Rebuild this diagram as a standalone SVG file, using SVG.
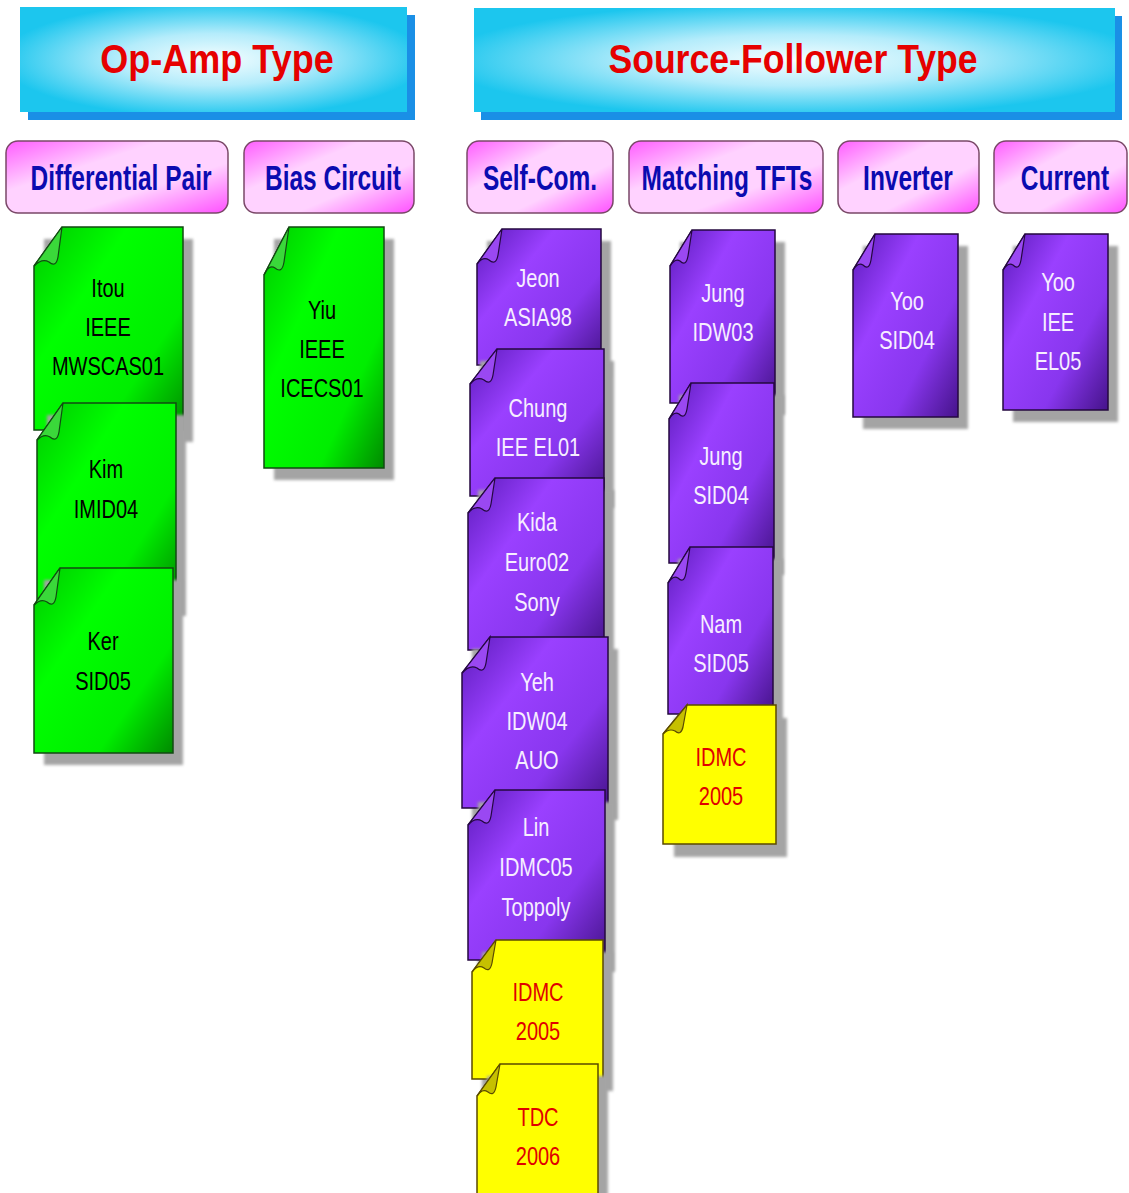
<svg xmlns="http://www.w3.org/2000/svg" width="1129" height="1193" viewBox="0 0 1129 1193">
<style>
.hdrtxt{font-family:"Liberation Sans",Arial,sans-serif;font-weight:bold;font-size:40px;fill:#e60000;text-anchor:middle}
.cattxt{font-family:"Liberation Sans",Arial,sans-serif;font-weight:bold;font-size:35px;fill:#0b0bb0;text-anchor:middle}
.cat{fill:url(#gPink);stroke:#7a4868;stroke-width:1.5}
.hdr{fill:url(#gCyan)}
.hdrsh{fill:#1a8fe6}
.ntxt{font-family:"Liberation Sans",Arial,sans-serif;font-size:25px;text-anchor:middle}
.sh{fill:#a4a4a4;filter:url(#blur)}
.green .body{fill:url(#gGreen);stroke:#124a12;stroke-width:1.5}
.green .flap{fill:#3ad83a;stroke:#124a12;stroke-width:1.2}
.green text{fill:#000}
.purple .body{fill:url(#gPurple);stroke:#24083f;stroke-width:1.5}
.purple .flap{fill:#9a48f2;stroke:#24083f;stroke-width:1.2}
.purple text{fill:#f6eeff}
.yellow .body{fill:#ffff00;stroke:#5a4a00;stroke-width:1.5}
.yellow .flap{fill:#c6c000;stroke:#5a4a00;stroke-width:1.2}
.yellow text{fill:#e00000}
</style>
<defs>
<filter id="blur" x="-10%" y="-10%" width="120%" height="120%"><feGaussianBlur stdDeviation="1.6"/></filter>
<radialGradient id="gCyan" cx="0.5" cy="0.5" r="0.55">
<stop offset="0" stop-color="#f6feff"/><stop offset="0.45" stop-color="#b4ecfb"/><stop offset="1" stop-color="#1cc6ee"/>
</radialGradient>
<linearGradient id="gPink" x1="0" y1="0" x2="1" y2="1">
<stop offset="0" stop-color="#ff5cff"/><stop offset="0.35" stop-color="#ffd2ff"/><stop offset="0.65" stop-color="#ffd2ff"/><stop offset="1" stop-color="#ff50ff"/>
</linearGradient>
<linearGradient id="gGreen" x1="0" y1="0.1" x2="1" y2="1">
<stop offset="0" stop-color="#00d000"/><stop offset="0.3" stop-color="#00ff00"/><stop offset="0.7" stop-color="#00ee00"/><stop offset="1" stop-color="#008a00"/>
</linearGradient>
<linearGradient id="gPurple" x1="0" y1="0.1" x2="1" y2="1">
<stop offset="0" stop-color="#6420c4"/><stop offset="0.3" stop-color="#9a40ff"/><stop offset="0.66" stop-color="#8836ee"/><stop offset="1" stop-color="#45138a"/>
</linearGradient>
</defs>
<rect width="1129" height="1193" fill="#fff"/>

<g id="hdr-opamp">
<rect class="hdrsh" x="28" y="15" width="387" height="105"/>
<rect class="hdr" x="20" y="7" width="387" height="105"/>
<text class="hdrtxt" transform="translate(217 73) scale(0.9 1)" x="0" y="0">Op-Amp Type</text>
</g>
<g id="hdr-sf">
<rect class="hdrsh" x="481" y="16" width="641" height="104"/>
<rect class="hdr" x="474" y="8" width="641" height="104"/>
<text class="hdrtxt" transform="translate(793 73) scale(0.89 1)" x="0" y="0">Source-Follower Type</text>
</g>

<g id="cat-diff"><rect class="cat" x="6" y="141" width="222" height="72" rx="12"/><text class="cattxt" transform="translate(121 190) scale(0.7 1)" x="0" y="0">Differential Pair</text></g>
<g id="cat-bias"><rect class="cat" x="244" y="141" width="170" height="72" rx="12"/><text class="cattxt" transform="translate(333 190) scale(0.7 1)" x="0" y="0">Bias Circuit</text></g>
<g id="cat-self"><rect class="cat" x="467" y="141" width="146" height="72" rx="12"/><text class="cattxt" transform="translate(540 190) scale(0.7 1)" x="0" y="0">Self-Com.</text></g>
<g id="cat-match"><rect class="cat" x="629" y="141" width="194" height="72" rx="12"/><text class="cattxt" transform="translate(727 190) scale(0.7 1)" x="0" y="0">Matching TFTs</text></g>
<g id="cat-inv"><rect class="cat" x="838" y="141" width="141" height="72" rx="12"/><text class="cattxt" transform="translate(908 190) scale(0.7 1)" x="0" y="0">Inverter</text></g>
<g id="cat-cur"><rect class="cat" x="994" y="141" width="133" height="72" rx="12"/><text class="cattxt" transform="translate(1065 190) scale(0.7 1)" x="0" y="0">Current</text></g>

<g id="connectors"/>

<g id="n-itou" class="green">
<rect class="sh" x="44" y="239" width="149" height="203"/>
<path class="body" d="M62 227H183V430H34V266Z"/>
<path class="flap" d="M62 227L58 257Q56 268 49 262Q42 258 34 266Z"/>
<text class="ntxt" transform="translate(108 0) scale(0.8 1)"><tspan x="0" y="297">Itou</tspan><tspan x="0" y="336">IEEE</tspan><tspan x="0" y="375">MWSCAS01</tspan></text>
</g>
<g id="n-kim" class="green">
<rect class="sh" x="47" y="415" width="139" height="201"/>
<path class="body" d="M63 403H176V604H37V440Z"/>
<path class="flap" d="M63 403L59 432Q57 443 50 437Q44 433 37 440Z"/>
<text class="ntxt" transform="translate(106 0) scale(0.8 1)"><tspan x="0" y="478">Kim</tspan><tspan x="0" y="518">IMID04</tspan></text>
</g>
<g id="n-ker" class="green">
<rect class="sh" x="44" y="580" width="139" height="185"/>
<path class="body" d="M60 568H173V753H34V605Z"/>
<path class="flap" d="M60 568L56 597Q54 608 47 602Q41 598 34 605Z"/>
<text class="ntxt" transform="translate(103 0) scale(0.8 1)"><tspan x="0" y="650">Ker</tspan><tspan x="0" y="690">SID05</tspan></text>
</g>
<g id="n-yiu" class="green">
<rect class="sh" x="274" y="239" width="120" height="241"/>
<path class="body" d="M289 227H384V468H264V275Z"/>
<path class="flap" d="M289 227L284 262Q282 274 275 268Q269 264 264 275Z"/>
<text class="ntxt" transform="translate(322 0) scale(0.8 1)"><tspan x="0" y="319">Yiu</tspan><tspan x="0" y="358">IEEE</tspan><tspan x="0" y="397">ICECS01</tspan></text>
</g>

<g id="n-jeon" class="purple">
<rect class="sh" x="487" y="241" width="124" height="136"/>
<path class="body" d="M502 229H601V365H477V264Z"/>
<path class="flap" d="M502 229L498 255Q496 266 489 260Q483 256 477 264Z"/>
<text class="ntxt" transform="translate(538 0) scale(0.8 1)"><tspan x="0" y="287">Jeon</tspan><tspan x="0" y="326">ASIA98</tspan></text>
</g>
<g id="n-chung" class="purple">
<rect class="sh" x="480" y="361" width="134" height="147"/>
<path class="body" d="M497 349H604V496H470V384Z"/>
<path class="flap" d="M497 349L493 375Q491 386 484 380Q477 376 470 384Z"/>
<text class="ntxt" transform="translate(538 0) scale(0.8 1)"><tspan x="0" y="417">Chung</tspan><tspan x="0" y="456">IEE EL01</tspan></text>
</g>
<g id="n-kida" class="purple">
<rect class="sh" x="478" y="490" width="136" height="172"/>
<path class="body" d="M495 478H604V650H468V513Z"/>
<path class="flap" d="M495 478L491 504Q489 515 482 509Q475 505 468 513Z"/>
<text class="ntxt" transform="translate(537 0) scale(0.8 1)"><tspan x="0" y="531">Kida</tspan><tspan x="0" y="571">Euro02</tspan><tspan x="0" y="611">Sony</tspan></text>
</g>
<g id="n-yeh" class="purple">
<rect class="sh" x="472" y="649" width="146" height="171"/>
<path class="body" d="M490 637H608V808H462V673Z"/>
<path class="flap" d="M490 637L486 663Q484 674 477 668Q470 664 462 673Z"/>
<text class="ntxt" transform="translate(537 0) scale(0.8 1)"><tspan x="0" y="691">Yeh</tspan><tspan x="0" y="730">IDW04</tspan><tspan x="0" y="769">AUO</tspan></text>
</g>
<g id="n-lin" class="purple">
<rect class="sh" x="478" y="802" width="137" height="170"/>
<path class="body" d="M495 790H605V960H468V825Z"/>
<path class="flap" d="M495 790L491 816Q489 827 482 821Q475 817 468 825Z"/>
<text class="ntxt" transform="translate(536 0) scale(0.8 1)"><tspan x="0" y="836">Lin</tspan><tspan x="0" y="876">IDMC05</tspan><tspan x="0" y="916">Toppoly</tspan></text>
</g>
<g id="n-idmc1" class="yellow">
<rect class="sh" x="482" y="952" width="131" height="139"/>
<path class="body" d="M496 940H603V1079H472V972Z"/>
<path class="flap" d="M496 940L492 963Q490 973 484 968Q478 964 472 972Z"/>
<text class="ntxt" transform="translate(538 0) scale(0.8 1)"><tspan x="0" y="1001">IDMC</tspan><tspan x="0" y="1040">2005</tspan></text>
</g>
<g id="n-tdc" class="yellow">
<rect class="sh" x="487" y="1076" width="121" height="140"/>
<path class="body" d="M500 1064H598V1204H477V1096Z"/>
<path class="flap" d="M500 1064L496 1087Q494 1097 488 1092Q482 1088 477 1096Z"/>
<text class="ntxt" transform="translate(538 0) scale(0.8 1)"><tspan x="0" y="1126">TDC</tspan><tspan x="0" y="1165">2006</tspan></text>
</g>

<g id="n-jung1" class="purple">
<rect class="sh" x="680" y="242" width="105" height="173"/>
<path class="body" d="M692 230H775V403H670V266Z"/>
<path class="flap" d="M692 230L688 256Q686 267 680 261Q675 258 670 266Z"/>
<text class="ntxt" transform="translate(723 0) scale(0.8 1)"><tspan x="0" y="302">Jung</tspan><tspan x="0" y="341">IDW03</tspan></text>
</g>
<g id="n-jung2" class="purple">
<rect class="sh" x="679" y="395" width="105" height="180"/>
<path class="body" d="M691 383H774V563H669V419Z"/>
<path class="flap" d="M691 383L687 409Q685 420 679 414Q674 411 669 419Z"/>
<text class="ntxt" transform="translate(721 0) scale(0.8 1)"><tspan x="0" y="465">Jung</tspan><tspan x="0" y="504">SID04</tspan></text>
</g>
<g id="n-nam" class="purple">
<rect class="sh" x="678" y="559" width="105" height="167"/>
<path class="body" d="M690 547H773V714H668V583Z"/>
<path class="flap" d="M690 547L686 573Q684 584 678 578Q673 575 668 583Z"/>
<text class="ntxt" transform="translate(721 0) scale(0.8 1)"><tspan x="0" y="633">Nam</tspan><tspan x="0" y="672">SID05</tspan></text>
</g>
<g id="n-idmc2" class="yellow">
<rect class="sh" x="674" y="718" width="113" height="139"/>
<path class="body" d="M687 705H776V844H663V734Z"/>
<path class="flap" d="M687 705L683 727Q681 736 675 731Q669 728 663 734Z"/>
<text class="ntxt" transform="translate(721 0) scale(0.8 1)"><tspan x="0" y="766">IDMC</tspan><tspan x="0" y="805">2005</tspan></text>
</g>

<g id="n-yoo1" class="purple">
<rect class="sh" x="863" y="246" width="105" height="183"/>
<path class="body" d="M875 234H958V417H853V270Z"/>
<path class="flap" d="M875 234L871 260Q869 271 863 265Q858 262 853 270Z"/>
<text class="ntxt" transform="translate(907 0) scale(0.8 1)"><tspan x="0" y="310">Yoo</tspan><tspan x="0" y="349">SID04</tspan></text>
</g>
<g id="n-yoo2" class="purple">
<rect class="sh" x="1013" y="246" width="105" height="176"/>
<path class="body" d="M1025 234H1108V410H1003V270Z"/>
<path class="flap" d="M1025 234L1021 260Q1019 271 1013 265Q1008 262 1003 270Z"/>
<text class="ntxt" transform="translate(1058 0) scale(0.8 1)"><tspan x="0" y="291">Yoo</tspan><tspan x="0" y="331">IEE</tspan><tspan x="0" y="370">EL05</tspan></text>
</g>
</svg>
